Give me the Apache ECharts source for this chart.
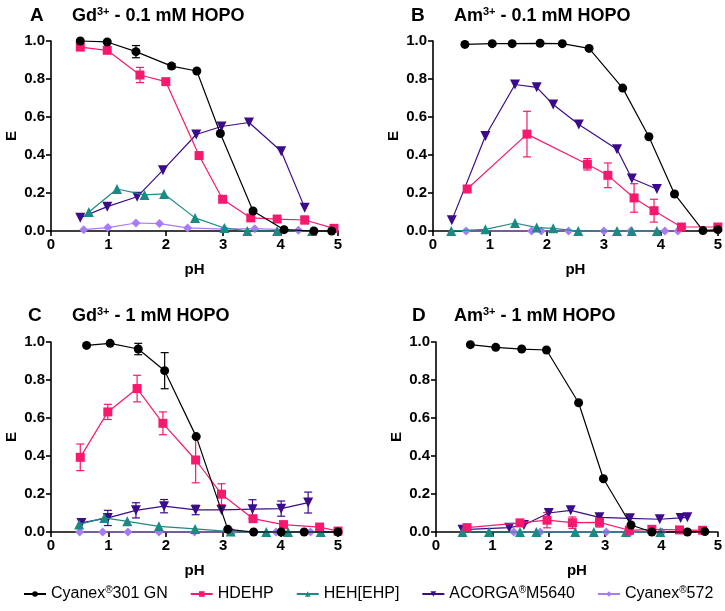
<!DOCTYPE html>
<html><head><meta charset="utf-8">
<script src="https://cdn.jsdelivr.net/npm/echarts@6/dist/echarts.min.js"></script>
<style>html,body{margin:0;padding:0;background:#fff}#c{width:725px;height:611px}</style>
</head><body><div id="c"></div>
<script>
// ---- Data (pH, E) ----
const seriesNames = ['Cyanex®301 GN','HDEHP','HEH[EHP]','ACORGA®M5640','Cyanex®572'];
const colors = ['#000000','#F8186E','#1B8A84','#3A0C8C','#A77CF6'];
const xTicks = [0,1,2,3,4,5];
const yTicks = [0,0.2,0.4,0.6,0.8,1.0];
const panelLetters = ['A','B','C','D'];
const panelIons = ['Gd','Am','Gd','Am'];
const panelConc = [' - 0.1 mM HOPO',' - 0.1 mM HOPO',' - 1 mM HOPO',' - 1 mM HOPO'];

// Panel A: Gd3+ - 0.1 mM HOPO
const A_cy301 = [[0.51,1.0],[0.98,0.995],[1.48,0.944],[2.1,0.868],[2.54,0.842],[2.95,0.513],[3.52,0.105],[4.06,0.007],[4.58,0],[4.89,0]];
const A_hdehp = [[0.51,0.968],[0.98,0.951],[1.55,0.821],[2.0,0.786],[2.58,0.397],[2.99,0.167],[3.48,0.069],[3.94,0.063],[4.42,0.058],[4.93,0.014]];
const A_heh = [[0.66,0.10],[1.15,0.221],[1.63,0.19],[1.97,0.195],[2.51,0.069],[3.02,0.016],[3.42,0],[3.94,0],[4.55,0]];
const A_acorga = [[0.51,0.07],[0.98,0.128],[1.5,0.18],[1.95,0.32],[2.53,0.508],[2.97,0.55],[3.45,0.571],[4.01,0.42],[4.42,0.123]];
const A_cy572 = [[0.57,0.007],[0.99,0.018],[1.48,0.042],[1.89,0.039],[2.38,0.016],[3.02,0.01],[3.55,0.012],[4.06,0.007],[4.31,0.004]];
// Panel B: Am3+ - 0.1 mM HOPO
const B_cy301 = [[0.56,0.982],[1.04,0.986],[1.39,0.986],[1.88,0.988],[2.27,0.986],[2.74,0.961],[3.33,0.752],[3.79,0.496],[4.24,0.195],[4.74,0.002],[5.0,0.007]];
const B_hdehp = [[0.6,0.221],[1.65,0.51],[2.71,0.351],[3.07,0.293],[3.53,0.174],[3.88,0.107],[4.36,0.021],[5.0,0.021]];
const B_heh = [[0.32,0],[0.92,0.009],[1.44,0.042],[1.82,0.018],[2.11,0.014],[2.55,0],[3.23,0],[3.49,0],[3.93,0]];
const B_acorga = [[0.33,0.056],[0.92,0.5],[1.44,0.771],[1.82,0.756],[2.11,0.666],[2.56,0.561],[3.23,0.43],[3.49,0.276],[3.93,0.221]];
const B_cy572 = [[0.58,0],[1.73,0],[1.9,0],[2.38,0],[3.0,0],[3.47,0],[4.07,0],[4.3,0]];
// Panel C: Gd3+ - 1 mM HOPO
const C_cy301 = [[0.62,0.982],[1.03,0.993],[1.52,0.963],[1.98,0.849],[2.53,0.502],[3.08,0.014],[3.53,0],[4.01,0],[4.41,0],[5.0,0]];
const C_hdehp = [[0.51,0.393],[0.99,0.632],[1.5,0.755],[1.95,0.572],[2.52,0.379],[2.97,0.199],[3.52,0.07],[4.05,0.039],[4.68,0.026],[5.0,0.005]];
const C_heh = [[0.49,0.04],[0.93,0.074],[1.33,0.056],[1.88,0.03],[2.51,0.016],[3.13,0.002],[3.75,0],[4.13,0],[4.7,0]];
const C_acorga = [[0.53,0.048],[0.99,0.074],[1.48,0.114],[1.97,0.136],[2.52,0.116],[2.97,0.116],[3.51,0.12],[4.01,0.123],[4.48,0.155]];
const C_cy572 = [[0.5,0],[0.9,0],[1.34,0],[1.88,0],[2.5,0],[3.16,0],[3.92,0],[4.52,0]];
// Panel D: Am3+ - 1 mM HOPO
const D_cy301 = [[0.61,0.986],[1.06,0.972],[1.52,0.963],[1.96,0.958],[2.53,0.68],[2.97,0.28],[3.46,0.037],[3.83,0],[4.46,0],[4.77,0.002]];
const D_hdehp = [[0.55,0.023],[1.49,0.048],[1.97,0.062],[2.42,0.049],[2.9,0.051],[3.43,0.009],[3.83,0.014],[4.32,0.011],[4.73,0.009]];
const D_heh = [[0.47,0],[0.94,0],[1.49,0],[1.78,0],[2.47,0],[2.8,0],[3.37,0],[3.98,0]];
const D_acorga = [[0.47,0.012],[1.3,0.023],[1.56,0.037],[2.0,0.1],[2.39,0.114],[2.9,0.077],[3.44,0.072],[3.97,0.067],[4.34,0.074],[4.46,0.077]];
const D_cy572 = [[1.38,0],[1.85,0],[3.02,0],[3.46,0],[4.01,0]];

// Error bars: [pH, E, ±err]
const A_cy301_err = [[1.48,0.944,0.032],[2.1,0.868,0.013]];
const A_hdehp_err = [[1.55,0.821,0.04],[4.42,0.058,0.02]];
const B_hdehp_err = [[1.65,0.51,0.12],[2.71,0.351,0.03],[3.07,0.293,0.065],[3.53,0.174,0.075],[3.88,0.107,0.06]];
const C_cy301_err = [[1.52,0.963,0.03],[1.98,0.849,0.095]];
const C_hdehp_err = [[0.51,0.393,0.07],[0.99,0.632,0.04],[1.5,0.755,0.07],[1.95,0.572,0.06],[2.52,0.379,0.12],[2.97,0.199,0.055]];
const C_acorga_err = [[0.99,0.074,0.04],[1.48,0.114,0.04],[1.97,0.136,0.035],[2.52,0.116,0.025],[3.51,0.12,0.05],[4.01,0.123,0.04],[4.48,0.155,0.055]];
const D_hdehp_err = [[1.97,0.062,0.04],[2.42,0.049,0.03],[2.9,0.051,0.025]];

const panels = [
  [A_cy301,A_hdehp,A_heh,A_acorga,A_cy572],
  [B_cy301,B_hdehp,B_heh,B_acorga,B_cy572],
  [C_cy301,C_hdehp,C_heh,C_acorga,C_cy572],
  [D_cy301,D_hdehp,D_heh,D_acorga,D_cy572]
];
const errSets = [
  [0,0,A_cy301_err],[0,1,A_hdehp_err],[1,1,B_hdehp_err],
  [2,0,C_cy301_err],[2,1,C_hdehp_err],[2,3,C_acorga_err],[3,1,D_hdehp_err]
];

// ---- Layout ----
const FONT = "'Liberation Sans', Arial, Helvetica, sans-serif";
const grids = [
  {left:51, top:41, width:287, height:190},
  {left:433, top:41, width:287, height:190},
  {left:51, top:342, width:287, height:190},
  {left:436, top:342, width:286, height:190}
];
const titlePos = [
  {lx:25, tx:67, y:1},{lx:406, tx:449, y:1},{lx:23, tx:67, y:301},{lx:407, tx:449, y:301}
];
const symbols = ['circle','rect','triangle','triangle','diamond'];
const symRot = [0,0,0,180,0];
const symSizes = [9,9,10,10,9];

const axisFont = {fontFamily:FONT, fontWeight:'bold', fontSize:15, color:'#000'};

const xAxes = grids.map((g,i)=>({
  gridIndex:i, type:'value', min:xTicks[0], max:xTicks[xTicks.length-1], interval:1,
  name:'pH', nameLocation:'middle', nameGap:31,
  nameTextStyle:Object.assign({}, axisFont),
  axisLine:{lineStyle:{color:'#000', width:1.6}},
  axisTick:{show:true, length:5, lineStyle:{color:'#000', width:1.6}},
  axisLabel:Object.assign({margin:6}, axisFont),
  splitLine:{show:false}
}));
const yAxes = grids.map((g,i)=>({
  gridIndex:i, type:'value', min:yTicks[0], max:yTicks[yTicks.length-1], interval:0.2,
  name:'E', nameLocation:'middle', nameGap:32,
  nameTextStyle:Object.assign({}, axisFont),
  axisLine:{show:true, lineStyle:{color:'#000', width:1.6}},
  axisTick:{show:true, length:5, lineStyle:{color:'#000', width:1.6}},
  axisLabel:Object.assign({margin:6, formatter:v=>v.toFixed(1)}, axisFont),
  splitLine:{show:false}
}));

const series = [];
errSets.forEach(([p,s,data])=>{
  series.push({
    type:'custom', name:'err'+p+s, xAxisIndex:p, yAxisIndex:p, z:1,
    itemStyle:{color:colors[s]}, encode:{x:0,y:1}, clip:false,
    data:data,
    renderItem:function(params, api){
      const x=api.value(0), y=api.value(1), e=api.value(2);
      const t=api.coord([x,y+e]), b=api.coord([x,y-e]);
      const w=4, st={stroke:colors[s], lineWidth:1.2};
      return {type:'group', children:[
        {type:'line', shape:{x1:t[0],y1:t[1],x2:b[0],y2:b[1]}, style:st},
        {type:'line', shape:{x1:t[0]-w,y1:t[1],x2:t[0]+w,y2:t[1]}, style:st},
        {type:'line', shape:{x1:b[0]-w,y1:b[1],x2:b[0]+w,y2:b[1]}, style:st}
      ]};
    }
  });
});
panels.forEach((ps,p)=>{
  ps.forEach((data,s)=>{
    series.push({
      type:'line', name:seriesNames[s], xAxisIndex:p, yAxisIndex:p, data:data,
      symbol:symbols[s], symbolRotate:symRot[s], symbolSize:symSizes[s], showAllSymbol:true,
      clip:false, z:2+ (4-s),
      lineStyle:{color:colors[s], width:1.2},
      itemStyle:{color:colors[s], borderWidth:0},
      emphasis:{disabled:true}, animation:false
    });
  });
});

const titleFont = {fontFamily:FONT, fontWeight:'bold', fontSize:18, color:'#000'};
const titles = [];
grids.forEach((g,i)=>{
  const tp = titlePos[i];
  titles.push({text:panelLetters[i], left:tp.lx, top:tp.y, textStyle:Object.assign({}, titleFont, {fontSize:19})});
  titles.push({
    text:'{b|'+panelIons[i]+'}{sup|3+}{b|'+panelConc[i]+'}', left:tp.tx, top:tp.y,
    textStyle:{rich:{
      b:Object.assign({}, titleFont),
      sup:Object.assign({}, titleFont, {fontSize:11, padding:[0,0,9,0]})
    }}
  });
});

const chart = echarts.init(document.getElementById('c'), null, {renderer:'canvas'});
chart.setOption({
  animation:false,
  backgroundColor:'#fff',
  title:titles,
  grid:grids,
  xAxis:xAxes,
  yAxis:yAxes,
  legend:{
    data:seriesNames, bottom:4, left:18, itemGap:22, itemWidth:22, itemHeight:7,
    textStyle:{fontFamily:FONT, fontSize:16, color:'#000',
      rich:{sup:{fontFamily:FONT, fontSize:10, color:'#000', padding:[0,0,8,0]}}},
    formatter:function(n){ return n.replace('®','{sup|®}'); }
  },
  series:series
});
</script></body></html>
